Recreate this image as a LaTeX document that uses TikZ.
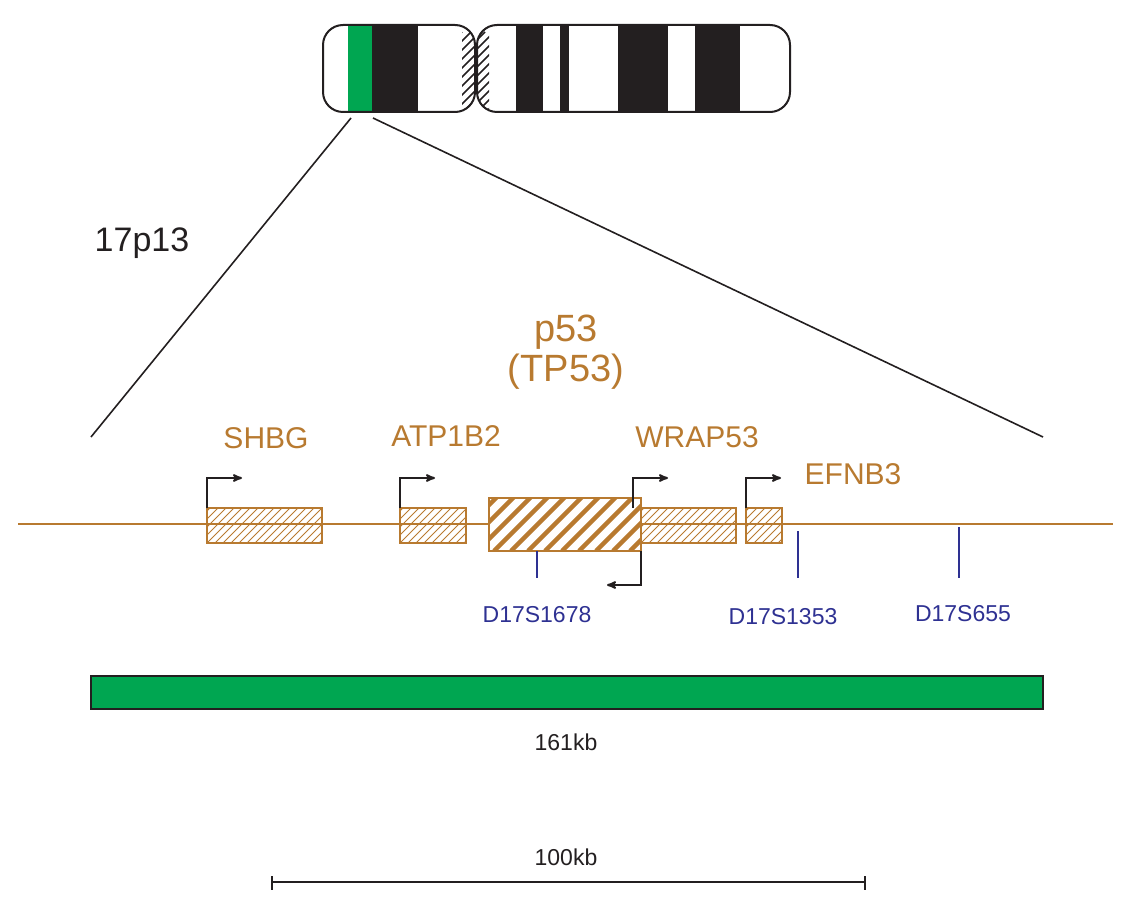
\documentclass[tikz,border=0pt]{standalone}
\usepackage{fontspec}
\setmainfont{Liberation Sans}
\usetikzlibrary{arrows,positioning}
\definecolor{gene}{HTML}{B87A30}
\definecolor{markblue}{HTML}{2E3192}
\definecolor{band}{HTML}{231F20}
\definecolor{region}{HTML}{00A651}
\newcommand{\hatchit}[6]{% x1,y1,x2,y2,step,colour/width
  \begin{scope}
    \clip (#1,#2) rectangle (#3,#4);
    \pgfmathtruncatemacro{\hnext}{-80+#5}
    \foreach \s in {-80,\hnext,...,260}
      \draw[#6] (#1+\s,#4) -- ++(80,-80);
  \end{scope}}
\begin{document}
\begin{tikzpicture}[x=1pt,y=-1pt,>=stealth',thick,
  genebox/.style={draw=gene,line width=2.2pt},
  tss/.style={->,draw=band,line width=2pt,shorten >=1pt},
  marker/.style={draw=markblue,line width=1.6pt},
  genelabel/.style={text=gene,font=\fontsize{30}{32}\selectfont},
  marklabel/.style={text=markblue,font=\fontsize{23}{25}\selectfont},
  plain/.style={text=band,font=\fontsize{23}{25}\selectfont}]
\useasboundingbox (0,0) rectangle (1130,909);

% chromosome 17
\begin{scope}
  \clip[rounded corners=20] (323,25) rectangle (475,112);
  \fill[region] (348,25) rectangle (372,112);
  \fill[band] (372,25) rectangle (418,112);
  \hatchit{462}{25}{476}{112}{9}{band,line width=1.6pt}
\end{scope}
\begin{scope}
  \clip[rounded corners=20] (477,25) rectangle (790,112);
  \hatchit{476}{25}{489}{112}{9}{band,line width=1.6pt}
  \foreach \a/\b in {516/543,560/569,618/668,695/740}
    \fill[band] (\a,25) rectangle (\b,112);
\end{scope}
\draw[band,line width=2pt,rounded corners=20] (323,25) rectangle (475,112);
\draw[band,line width=2pt,rounded corners=20] (477,25) rectangle (790,112);

% zoom lines
\coordinate (zl) at (351,118);
\coordinate (zr) at (373,118);
\coordinate (el) at (91,437);
\coordinate (er) at (1043,437);
\draw[band,line width=1.6pt] (zl) -- (el);
\draw[band,line width=1.6pt] (zr) -- (er);
\node[plain,font=\fontsize{34}{36}\selectfont] (band17) at (142,243) {17p13};

% gene track
\draw[gene,line width=1.6pt] (18,524) -- (1113,524);
\hatchit{207}{508}{322}{543}{8}{gene,line width=1pt}
\hatchit{400}{508}{466}{543}{8}{gene,line width=1pt}
\hatchit{633}{508}{736}{543}{8}{gene,line width=1pt}
\hatchit{746}{508}{782}{543}{8}{gene,line width=1pt}
\draw[genebox] (207,508) rectangle (322,543);
\draw[genebox] (400,508) rectangle (466,543);
\draw[genebox] (633,508) rectangle (736,543);
\draw[genebox] (746,508) rectangle (782,543);
\fill[white] (489,498) rectangle (641,551);
\hatchit{489}{498}{641}{551}{17}{gene,line width=4.5pt}
\draw[genebox] (489,498) rectangle (641,551);

% transcription starts
\foreach \x in {207,400,633,746}
  \draw[tss] (\x,508) |- (\x+36,478);
\draw[tss] (641,551) |- (606,585);

% markers
\draw[marker] (537,551) -- (537,578);
\draw[marker] (798,531) -- (798,578);
\draw[marker] (959,527) -- (959,578);
\node[marklabel] (m1678) at (537,615) {D17S1678};
\node[marklabel] (m1353) at (783,617) {D17S1353};
\node[marklabel] (m655) at (963,614) {D17S655};

% gene names
\node[genelabel] (shbg) at (266,438) {SHBG};
\node[genelabel] (atp) at (446,436) {ATP1B2};
\node[genelabel] (wrap) at (697,437) {WRAP53};
\node[genelabel] (efnb) at (853,474) {EFNB3};
\node[genelabel,font=\fontsize{38}{40}\selectfont,align=center] (tp53) at (566,352) {p53\\(TP53)};

% region and scale
\draw[band,fill=region,line width=2pt] (91,676) rectangle (1043,709);
\node[plain] (len) at (566,742) {161kb};
\node[plain] (scale) at (566,857) {100kb};
\draw[band,line width=1.6pt] (272,882) -- (865,882);
\draw[band,line width=1.6pt] (272,876) -- (272,890) (865,876) -- (865,890);
\end{tikzpicture}
\end{document}
